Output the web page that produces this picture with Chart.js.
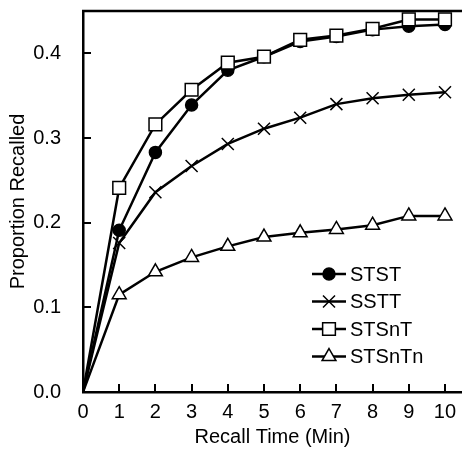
<!DOCTYPE html>
<html>
<head>
<meta charset="utf-8">
<script src="https://cdn.jsdelivr.net/npm/chart.js@4/dist/chart.umd.min.js"></script>
<style>
  html, body { margin: 0; padding: 0; background: #fff; }
  #wrap { width: 462px; height: 456px; }
</style>
</head>
<body>
<div id="wrap"><canvas id="c" width="462" height="456"></canvas></div>
<script>
// recall time in minutes
const minutes = [0, 1, 2, 3, 4, 5, 6, 7, 8, 9, 10];
const seriesNames = ['STST', 'SSTT', 'STSnT', 'STSnTn'];
const stst   = [0, 0.191, 0.283, 0.339, 0.380, 0.396, 0.414, 0.420, 0.428, 0.432, 0.434];
const sstt   = [0, 0.176, 0.236, 0.267, 0.293, 0.311, 0.324, 0.340, 0.347, 0.351, 0.354];
const stsnt  = [0, 0.241, 0.316, 0.357, 0.389, 0.396, 0.416, 0.421, 0.429, 0.440, 0.440];
const stsntn = [0, 0.115, 0.142, 0.159, 0.172, 0.183, 0.188, 0.192, 0.197, 0.208, 0.208];
const yTicks = [0, 0.1, 0.2, 0.3, 0.4];

const FONT = 'Liberation Sans, Arial, Helvetica, sans-serif';
const pts = (ys) => minutes.map((x, i) => ({ x, y: ys[i] }));
const noFirst = (r) => (ctx) => ctx.dataIndex === 0 ? 0 : r;

function ds(label, data, style, r, fill, order) {
  return {
    label, data: pts(data), order,
    borderColor: '#000', borderWidth: 2.5,
    pointStyle: style, pointRadius: noFirst(r), pointHoverRadius: noFirst(r),
    pointBackgroundColor: fill, pointBorderColor: '#000', pointBorderWidth: 1.5,
    tension: 0, _r: r, _fill: fill
  };
}

// inward tick marks, top frame line and line+marker legend
const extras = {
  id: 'extras',
  afterDraw(chart) {
    const { ctx, chartArea: a, scales: { x, y } } = chart;
    ctx.save();
    ctx.strokeStyle = '#000';
    ctx.lineWidth = 2;
    ctx.beginPath();
    x.ticks.forEach(t => { const px = Math.round(x.getPixelForValue(t.value)); if (t.value > 0) { ctx.moveTo(px, a.bottom); ctx.lineTo(px, a.bottom - 8); } });
    y.ticks.forEach(t => { const py = Math.round(y.getPixelForValue(t.value)); if (t.value > 0) { ctx.moveTo(a.left, py); ctx.lineTo(a.left + 8, py); } });
    ctx.stroke();
    ctx.lineWidth = 2.5;
    ctx.beginPath(); ctx.moveTo(a.left - 1, a.top); ctx.lineTo(a.right, a.top); ctx.stroke();

    // legend
    const lx = 329, ly0 = 274, step = 27.5;
    chart.data.datasets.forEach((d, i) => {
      const yy = ly0 + i * step;
      ctx.strokeStyle = '#000';
      ctx.lineWidth = 2.5;
      ctx.beginPath(); ctx.moveTo(lx - 17, yy); ctx.lineTo(lx + 17, yy); ctx.stroke();
      ctx.fillStyle = d._fill;
      ctx.lineWidth = 1.5;
      Chart.helpers.drawPoint(ctx, {
        pointStyle: d.pointStyle, radius: d._r, borderWidth: 1.5, rotation: 0
      }, lx, yy);
      ctx.fillStyle = '#000';
      ctx.font = '20px ' + FONT;
      ctx.textBaseline = 'middle';
      ctx.textAlign = 'left';
      ctx.fillText(d.label, 350, yy + 1);
    });
    ctx.restore();
  }
};

new Chart(document.getElementById('c'), {
  type: 'line',
  data: {
    datasets: [
      ds(seriesNames[0], stst, 'circle', 6, '#000', 4),
      ds(seriesNames[1], sstt, 'crossRot', 8.5, '#fff', 3),
      ds(seriesNames[2], stsnt, 'rect', 9, '#fff', 1),
      ds(seriesNames[3], stsntn, 'triangle', 8, '#fff', 2)
    ]
  },
  options: {
    responsive: false,
    animation: false,
    layout: { autoPadding: false, padding: { top: 11, right: 0, left: 0, bottom: 0 } },
    plugins: { legend: { display: false }, tooltip: { enabled: false } },
    scales: {
      x: {
        type: 'linear', min: 0, max: 10.47,
        grid: { display: false },
        border: { display: true, color: '#000', width: 2.5 },
        ticks: { stepSize: 1, padding: 0, color: '#000', font: { family: FONT, size: 20 }, maxRotation: 0 },
        afterBuildTicks: (s) => { s.ticks = minutes.map(v => ({ value: v })); },
        afterFit: (s) => { s.height = 64; s.paddingLeft = 0; s.paddingRight = 0; },
        title: { display: true, text: 'Recall Time (Min)', color: '#000', font: { family: FONT, size: 20 }, padding: { top: 0, bottom: 7 } }
      },
      y: {
        type: 'linear', min: 0, max: 0.45,
        grid: { display: false },
        border: { display: true, color: '#000', width: 2.5 },
        ticks: { padding: 14, color: '#000', font: { family: FONT, size: 20 }, callback: (v) => Number(v).toFixed(1) },
        afterBuildTicks: (s) => { s.ticks = yTicks.map(v => ({ value: v })); },
        afterFit: (s) => { s.width = 83; s.paddingTop = 0; s.paddingBottom = 0; },
        title: { display: true, text: 'Proportion Recalled', color: '#000', font: { family: FONT, size: 20 }, padding: { top: 6, bottom: 0 } }
      }
    }
  },
  plugins: [extras]
});
</script>
</body>
</html>
